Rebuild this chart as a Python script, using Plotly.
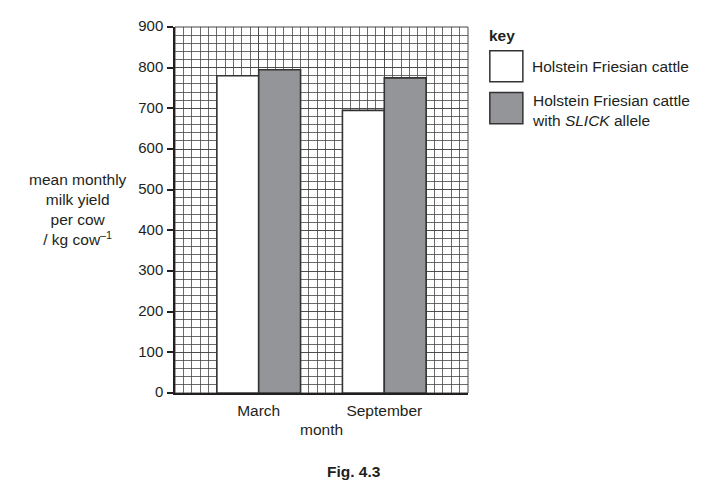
import plotly.graph_objects as go

# data
months = ["March", "September"]
month_pos = [10, 25]
holstein = [780, 695]
slick = [795, 775]
series_names = ["Holstein Friesian cattle", "Holstein Friesian cattle<br>with <i>SLICK</i> allele"]
y_ticks = [0, 100, 200, 300, 400, 500, 600, 700, 800, 900]

W, H = 708, 491
L, R, T, B = 175, 467.7, 17.7, 393.3  # plot area in pixels of the page
OFF = 8  # default body margin of the html page, on every side

FW, FH = W - 2 * OFF, H - 2 * OFF  # figure fits the window without scrolling


def px(x):
    return (x - L) / (R - L)


def py(y):
    return (B - y) / (B - T)


font = dict(family="Liberation Sans, Arial, sans-serif", size=15.5, color="#231f20")
tick_font = dict(family="Liberation Sans, Arial, sans-serif", size=15, color="#231f20")
grid_col = "rgba(70,70,70,0.8)"

fig = go.Figure()
fig.add_trace(go.Bar(x=[p - 2.5 for p in month_pos], y=holstein, width=5,
                     marker=dict(color="white", line=dict(color="#333", width=1.6)),
                     name=series_names[0]))
fig.add_trace(go.Bar(x=[p + 2.5 for p in month_pos], y=slick, width=5,
                     marker=dict(color="#939598", line=dict(color="#333", width=1.6)),
                     name=series_names[1]))

fig.update_layout(
    width=FW, height=FH,
    margin=dict(l=L - OFF, r=OFF + FW - R, t=T - OFF, b=OFF + FH - B, pad=0),
    paper_bgcolor="white", plot_bgcolor="white",
    showlegend=False, font=font, barmode="overlay",
    xaxis=dict(range=[0, 35], tickvals=month_pos, ticktext=months, ticks="",
               showgrid=True, gridcolor=grid_col, gridwidth=1, zeroline=False,
               minor=dict(dtick=1, tick0=0, showgrid=True, gridcolor=grid_col, gridwidth=1, ticks=""),
               showline=True, linecolor="#231f20", linewidth=1.5, mirror=False,
               tickfont=font, ticklabelstandoff=3),
    xaxis2=dict(range=[0, 35], overlaying="x", anchor="y", side="bottom",
                tickvals=[0, 17.5, 35], ticks="outside", ticklen=6, tickwidth=1.5,
                tickcolor="#231f20", showticklabels=False, showgrid=False, zeroline=False),
    yaxis=dict(range=[0, 900], tickvals=y_ticks, ticks="outside", ticklen=6, tickwidth=1.5,
               tickcolor="#231f20", showgrid=True, gridcolor=grid_col, gridwidth=1,
               minor=dict(dtick=20, tick0=0, showgrid=True, gridcolor=grid_col, gridwidth=1, ticks=""),
               zeroline=False, showline=True, linecolor="#231f20", linewidth=1.5,
               tickfont=tick_font, ticklabelstandoff=1, ticklabelshift=-1),
)

# frame of the grid paper (top and right edges)
fig.add_shape(type="rect", xref="paper", yref="paper", x0=0, x1=1, y0=0, y1=1,
              line=dict(color="#444", width=1), layer="below")


def label(x, y, text, anchor="center"):
    fig.add_annotation(xref="paper", yref="paper", x=px(x), y=py(y), xanchor=anchor,
                       yanchor="middle", showarrow=False, text=text,
                       align=anchor if anchor != "center" else "center", font=font)


# axis titles
label(78, 205, "mean monthly<br>milk yield<br>per cow<br>/ kg cow<sup>–1</sup>")
label(321, 431, "month")
label(354, 474, "<b>Fig. 4.3</b>")

# key
label(487, 26, "<b>key</b>", "left")
key_boxes = [(42, 74, "white", 58), (85, 117, "#939598", 103)]
for (y0, y1, col, ty), name in zip(key_boxes, series_names):
    fig.add_shape(type="rect", xref="paper", yref="paper", x0=px(489.5), x1=px(522.5),
                  y0=py(y1), y1=py(y0), fillcolor=col, line=dict(color="#333", width=1.5))
    label(530, ty, name, "left")

fig.write_html("out.html")
